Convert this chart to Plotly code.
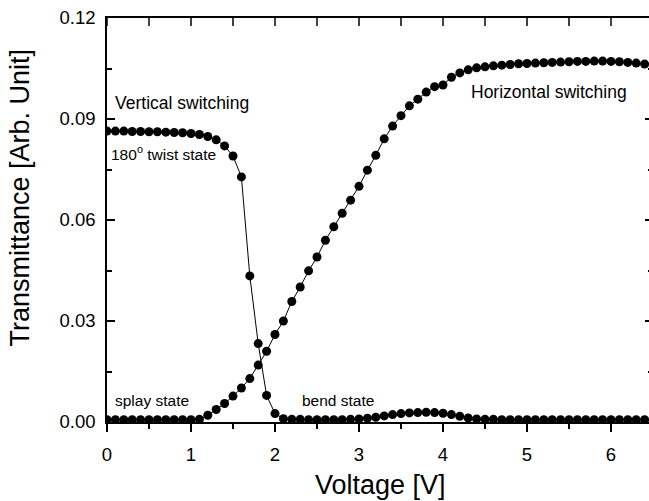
import plotly.graph_objects as go

voltage = [0.0, 0.1, 0.2, 0.3, 0.4, 0.5, 0.6, 0.7, 0.8, 0.9,
           1.0, 1.1, 1.2, 1.3, 1.4, 1.5, 1.6, 1.7, 1.8, 1.9,
           2.0, 2.1, 2.2, 2.3, 2.4, 2.5, 2.6, 2.7, 2.8, 2.9,
           3.0, 3.1, 3.2, 3.3, 3.4, 3.5, 3.6, 3.7, 3.8, 3.9,
           4.0, 4.1, 4.2, 4.3, 4.4, 4.5, 4.6, 4.7, 4.8, 4.9,
           5.0, 5.1, 5.2, 5.3, 5.4, 5.5, 5.6, 5.7, 5.8, 5.9,
           6.0, 6.1, 6.2, 6.3, 6.4]

vertical_switching = [0.0864, 0.0864, 0.0864, 0.0863, 0.0863, 0.0862, 0.0862, 0.0861, 0.0860, 0.0859,
                      0.0857, 0.0854, 0.0848, 0.0838, 0.0820, 0.0790, 0.0728, 0.0434, 0.0233, 0.0079,
                      0.0025, 0.0010, 0.0008, 0.0008, 0.0007, 0.0007, 0.0007, 0.0007, 0.0007, 0.0008,
                      0.0009, 0.0011, 0.0014, 0.0018, 0.0022, 0.0025, 0.0027, 0.0028, 0.0029, 0.0028,
                      0.0026, 0.0022, 0.0017, 0.0012, 0.0009, 0.0008, 0.0008, 0.0007, 0.0007, 0.0007,
                      0.0007, 0.0007, 0.0007, 0.0007, 0.0007, 0.0007, 0.0007, 0.0007, 0.0007, 0.0007,
                      0.0007, 0.0007, 0.0007, 0.0007, 0.0007]

horizontal_switching = [0.0007, 0.0007, 0.0007, 0.0007, 0.0007, 0.0007, 0.0007, 0.0007, 0.0007, 0.0007,
                        0.0007, 0.0008, 0.0020, 0.0037, 0.0055, 0.0077, 0.0101, 0.0129, 0.0169, 0.0210,
                        0.0260, 0.0300, 0.0358, 0.0401, 0.0449, 0.0490, 0.0540, 0.0580, 0.0620, 0.0659,
                        0.0700, 0.0748, 0.0792, 0.0841, 0.0879, 0.0910, 0.0939, 0.0959, 0.0980, 0.0996,
                        0.1001, 0.1024, 0.1037, 0.1046, 0.1052, 0.1055, 0.1058, 0.1060, 0.1062, 0.1064,
                        0.1065, 0.1066, 0.1067, 0.1068, 0.1069, 0.1070, 0.1071, 0.1071, 0.1072, 0.1072,
                        0.1071, 0.1070, 0.1068, 0.1066, 0.1063]

x_major_ticks = [0, 1, 2, 3, 4, 5, 6]
x_tick_labels = ["0", "1", "2", "3", "4", "5", "6"]
x_top_ticks = [0, 0.5, 1, 1.5, 2, 2.5, 3, 3.5, 4, 4.5, 5, 5.5, 6, 6.5]
y_major_ticks = [0.00, 0.03, 0.06, 0.09, 0.12]
y_tick_labels = ["0.00", "0.03", "0.06", "0.09", "0.12"]

FONT = "Arial, Liberation Sans, sans-serif"
PLOT_H = 404  # plot area height in px (for top tick length)
LW = 1.5

fig = go.Figure()
for series in (vertical_switching, horizontal_switching):
    fig.add_trace(go.Scatter(
        x=voltage, y=series, mode="lines+markers",
        line=dict(color="black", width=1),
        marker=dict(color="black", size=9, symbol="circle"),
        showlegend=False,
    ))

# inward ticks along the top frame edge
for v in x_top_ticks:
    fig.add_shape(type="line", xref="x", yref="paper", x0=v, x1=v,
                  y0=1, y1=1 - 8 / PLOT_H, line=dict(color="black", width=LW))

fig.update_layout(
    template="none",
    width=654, height=501,
    margin=dict(l=107, r=1, t=18, b=79),
    paper_bgcolor="white", plot_bgcolor="white",
    font=dict(family=FONT, color="black"),
    xaxis=dict(
        range=[0, 6.5], tickvals=x_major_ticks, ticktext=x_tick_labels,
        ticks="outside", ticklen=8, tickwidth=LW, tickcolor="black",
        minor=dict(ticks="outside", ticklen=5, tickwidth=LW, dtick=0.5, tickcolor="black", showgrid=False),
        showline=True, linecolor="black", linewidth=LW, mirror=True,
        showgrid=False, zeroline=False,
        ticklabelstandoff=7,
        tickfont=dict(size=18.5, family=FONT, color="black"),
    ),
    yaxis=dict(
        range=[0, 0.12], tickvals=y_major_ticks, ticktext=y_tick_labels,
        ticks="inside", ticklen=8, tickwidth=LW, tickcolor="black",
        minor=dict(ticks="inside", ticklen=5, tickwidth=LW, dtick=0.015, tickcolor="black", showgrid=False),
        showline=True, linecolor="black", linewidth=LW, mirror="ticks",
        showgrid=False, zeroline=False,
        ticklabelstandoff=6,
        tickfont=dict(size=18.5, family=FONT, color="black"),
    ),
    annotations=[
        dict(text="Voltage [V]", xref="paper", yref="paper", x=0.5, y=-0.1556,
             xanchor="center", yanchor="middle", showarrow=False,
             font=dict(size=27, family=FONT, color="black")),
        dict(text="Transmittance [Arb. Unit]", xref="paper", yref="paper", x=-0.1587, y=0.5566,
             xanchor="center", yanchor="middle", textangle=-90, showarrow=False,
             font=dict(size=27, family=FONT, color="black")),
        dict(text="Vertical switching", x=0.075, y=0.0947, xanchor="left", yanchor="middle",
             showarrow=False, font=dict(size=17.5, family=FONT, color="black")),
        dict(text="180<sup>o</sup> twist state", x=0.027, y=0.0799, xanchor="left", yanchor="middle",
             showarrow=False, font=dict(size=15.5, family=FONT, color="black")),
        dict(text="Horizontal switching", x=4.315, y=0.0981, xanchor="left", yanchor="middle",
             showarrow=False, font=dict(size=17.5, family=FONT, color="black")),
        dict(text="splay state", x=0.071, y=0.00645, xanchor="left", yanchor="middle",
             showarrow=False, font=dict(size=15.5, family=FONT, color="black")),
        dict(text="bend state", x=2.296, y=0.00645, xanchor="left", yanchor="middle",
             showarrow=False, font=dict(size=15.5, family=FONT, color="black")),
    ],
)

fig.write_html(
    "out.html",
    config={"displayModeBar": False},
    post_script=("document.body.style.margin='0';document.body.style.padding='0';"
                 "document.body.style.overflow='hidden';"
                 "document.documentElement.style.overflow='hidden';"),
)
